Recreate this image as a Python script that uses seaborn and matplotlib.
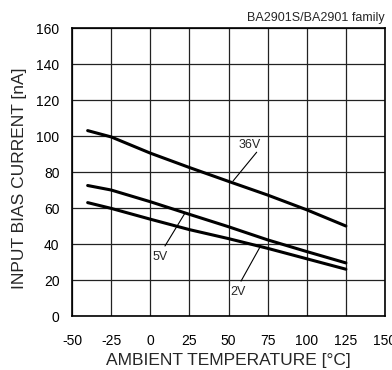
import matplotlib
matplotlib.use("Agg")
import matplotlib.pyplot as plt
import seaborn as sns
import pandas as pd

temps = [-40, -25, 0, 25, 50, 75, 100, 125]
i_36v = [103, 99.5, 90.5, 82.5, 74.8, 67.2, 59, 50]
i_5v = [72.5, 70, 63.5, 56.5, 49.6, 42.3, 35.8, 29.5]
i_2v = [63, 59.8, 53.8, 48, 43, 37.6, 31.8, 26]
series = ["36V", "5V", "2V"]
xticks = [-50, -25, 0, 25, 50, 75, 100, 125, 150]
yticks = [0, 20, 40, 60, 80, 100, 120, 140, 160]

rows = []
for name, vals in zip(series, [i_36v, i_5v, i_2v]):
    for t, v in zip(temps, vals):
        rows.append({"T": t, "I": v, "V": name})
df = pd.DataFrame(rows)

sns.set_style("white")
plt.rcParams['font.family'] = ['Liberation Sans', 'DejaVu Sans']
plt.rcParams['axes.unicode_minus'] = False

fig = plt.figure(figsize=(3.92, 3.70), dpi=100)
ax = fig.add_axes([0.1837, 0.1459, 0.7985, 0.7784])

sns.lineplot(data=df, x="T", y="I", units="V", estimator=None,
             color="black", linewidth=2.2, ax=ax, legend=False)

ax.set_xlim(-50, 150)
ax.set_ylim(0, 160)
ax.set_xticks(xticks)
ax.set_yticks(yticks)
ax.tick_params(axis='x', labelsize=10, length=0, pad=13, colors='black')
ax.tick_params(axis='y', labelsize=10, length=0, pad=9, colors='black')
ax.grid(True, color='#222222', linewidth=0.9)
for s in ax.spines.values():
    s.set_visible(True)
    s.set_color('black')
    s.set_linewidth(1.2)
ax.set_xlabel("AMBIENT TEMPERATURE [\u00b0C]", fontsize=12.5)
ax.set_ylabel("INPUT BIAS CURRENT [nA]", fontsize=12.5)
ax.xaxis.set_label_coords(0.5, -0.128)
ax.yaxis.set_label_coords(-0.145, 0.477)

ax.text(1.0, 1.015, "BA2901S/BA2901 family", transform=ax.transAxes,
        ha='right', va='bottom', fontsize=9)

ann = [("36V", (63.7, 95), (68, 91), (52.9, 75)),
       ("5V", (6.2, 32.8), (9.4, 38.9), (22.2, 57.2)),
       ("2V", (56, 13.3), (58, 19.4), (70.1, 38.3))]
for lab, tpos, l0, l1 in ann:
    ax.text(tpos[0], tpos[1], lab, ha='center', va='center', fontsize=9,
            bbox=dict(facecolor='white', edgecolor='none', pad=0.3))
    ax.annotate("", xy=l1, xytext=l0,
                arrowprops=dict(arrowstyle='-', color='black', lw=0.8,
                                shrinkA=0, shrinkB=0))

fig.savefig("out.png", dpi=100)
